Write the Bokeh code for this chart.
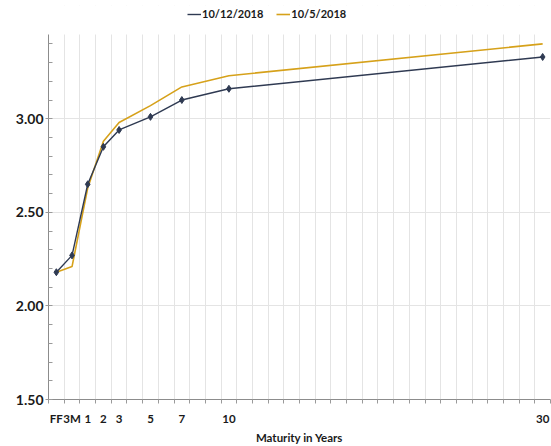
from bokeh.plotting import figure
from bokeh.models import (FixedTicker, Legend, LegendItem, ColumnDataSource, Range1d,
                          NumeralTickFormatter, BoxAnnotation)
from bokeh.embed import file_html
from bokeh.resources import INLINE

maturities = ["FF", "3M", "1", "2", "3", "5", "7", "10", "30"]
slots = [0, 1, 2, 3, 4, 6, 8, 11, 31]          # category slot of each maturity (one slot per year)
y_oct12 = [2.18, 2.27, 2.65, 2.85, 2.94, 3.01, 3.10, 3.16, 3.33]
y_oct5 = [2.18, 2.21, 2.63, 2.88, 2.98, 3.07, 3.17, 3.23, 3.40]
series_names = ["10/12/2018", "10/5/2018"]
y_ticks = [1.5, 2.0, 2.5, 3.0]
y_axis_min, y_axis_max = 1.5, 3.45

x = [s + 0.5 for s in slots]
src = ColumnDataSource(dict(x=x, a=y_oct12, b=y_oct5))

NAVY = "#2F3A52"
GOLD = "#D6A11A"
FONT = "Lato"

# frame extends above the axis top to leave room for the legend inside it
p = figure(width=551, height=446, output_backend="svg", toolbar_location=None,
           x_range=Range1d(0, 32), y_range=Range1d(y_axis_min, 3.605),
           min_border_left=48, min_border_right=1, min_border_top=5, min_border_bottom=0)
p.outline_line_color = None
p.background_fill_color = "white"

# grids
p.xgrid.ticker = FixedTicker(ticks=list(range(33)))
p.xgrid.grid_line_color = "#e4e4e4"
p.ygrid.grid_line_color = "#e4e4e4"
# blank the strip above the axis top (legend area)
p.add_layout(BoxAnnotation(bottom=y_axis_max, fill_color="white", fill_alpha=1.0,
                           line_color=None, level="underlay"))

gold_r = p.line("x", "b", source=src, line_color=GOLD, line_width=1.6)
navy_r = p.line("x", "a", source=src, line_color=NAVY, line_width=1.4)
p.scatter("x", "a", source=src, marker="diamond", size=7, fill_color=NAVY, line_color=NAVY)

# x axis
xa = p.xaxis[0]
xa.ticker = FixedTicker(ticks=x, minor_ticks=list(range(33)))
xa.major_label_overrides = {xv: lab for xv, lab in zip(x, maturities)}
xa.major_tick_line_color = None
xa.minor_tick_in = 0
xa.minor_tick_out = 4
xa.minor_tick_line_color = "#9a9a9a"
xa.axis_line_color = "#8c8c8c"
xa.major_label_text_font = FONT
xa.major_label_text_font_style = "bold"
xa.major_label_text_font_size = "11.5px"
xa.major_label_text_color = "#1a1a1a"
xa.major_label_standoff = 6
xa.axis_label = "Maturity in Years"
xa.axis_label_text_font = FONT
xa.axis_label_text_font_style = "bold"
xa.axis_label_text_font_size = "11.5px"
xa.axis_label_text_color = "#1a1a1a"
xa.axis_label_standoff = 3

# y axis
ya = p.yaxis[0]
ya.bounds = (y_axis_min, y_axis_max)
ya.ticker = FixedTicker(ticks=y_ticks, minor_ticks=[round(1.5 + 0.1 * i, 2) for i in range(20)])
ya.formatter = NumeralTickFormatter(format="0.00")
ya.major_tick_in = 0
ya.major_tick_out = 3
ya.major_tick_line_color = "#9a9a9a"
ya.minor_tick_in = 4
ya.minor_tick_out = 0
ya.minor_tick_line_color = "#9a9a9a"
ya.axis_line_color = "#8c8c8c"
ya.major_label_text_font = FONT
ya.major_label_text_font_style = "bold"
ya.major_label_text_font_size = "14px"
ya.major_label_text_color = "#1a1a1a"
ya.major_label_standoff = 2

legend = Legend(items=[LegendItem(label=series_names[0], renderers=[navy_r]),
                       LegendItem(label=series_names[1], renderers=[gold_r])],
                orientation="horizontal", location=(139, 379),
                border_line_color=None, background_fill_alpha=0,
                glyph_width=14, glyph_height=12, label_standoff=1, spacing=13,
                padding=0, margin=0,
                label_text_font=FONT, label_text_font_style="bold",
                label_text_font_size="11px", label_text_color="#1a1a1a")
p.add_layout(legend, "center")

open("out.html", "w").write(file_html(p, INLINE))
